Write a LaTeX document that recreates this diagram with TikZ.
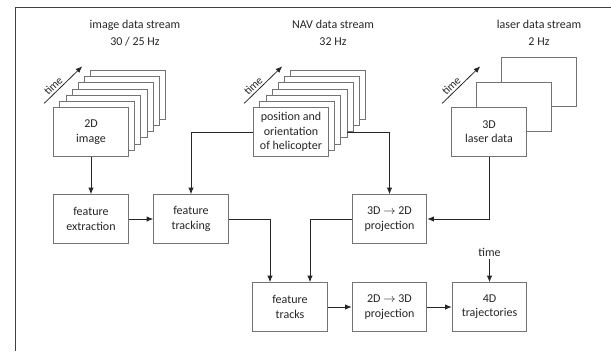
\documentclass[tikz,border=0pt]{standalone}
\usepackage{fontspec}
\setmainfont{Carlito}
\usetikzlibrary{calc}
\usetikzlibrary{arrows.meta}
\tikzset{
  box/.style={draw=black!55, fill=white, minimum width=56pt, minimum height=36.5pt,
    align=center, inner sep=1pt, text=black!85, font=\fontsize{9}{10.7}\selectfont},
  stream/.style={align=center, text=black!85, font=\fontsize{9}{12.5}\selectfont},
  flow/.style={draw=black!85, -{Latex[length=5pt,width=4pt]}},
}

\begin{document}
\begin{tikzpicture}[x=0.75pt, y=-0.75pt, line width=0.6pt]
    \useasboundingbox (0,0) rectangle (611,351);
    \draw[black!75] (15,351) -- (15,7) -- (611,7);

    % streams
    \node[stream] at (135,33) (himg) {image data stream\\30 / 25 Hz};
    \node[stream] at (333,33) (hnav) {NAV data stream\\32 Hz};
    \node[stream] at (539,33) (hlas) {laser data stream\\2 Hz};

    \foreach \k in {6,...,1}
      \node[box] at ({91+6.2*\k}, {132-6.2*\k}) (imgb\k) {};
    \node[box] at (91,132) (img) {2D\\image};

    \foreach \k in {6,...,1}
      \node[box] at ({291+6.2*\k}, {132-6.2*\k}) (navb\k) {};
    \node[box] at (291,132) (nav) {position and\\orientation\\of helicopter};

    \foreach \k in {2,1}
      \node[box] at ({489+25*\k}, {132-25*\k}) (lasb\k) {};
    \node[box] at (489,132) (las) {3D\\laser data};

    % time arrows
    \foreach \s in {img,nav,las} {
      \coordinate (\s t0) at ($(\s.north west)+(-9,-4)$);
      \coordinate (\s t1) at ($(\s.north west)+(29,-41)$);
      \draw[flow] (\s t0) -- node[sloped, above, pos=0.35, inner sep=1.5pt, text=black!85,
        font=\fontsize{8.5}{10}\selectfont] {time} (\s t1);
    }

    % processing
    \node[box] at (91,219) (fext) {feature\\extraction};
    \node[box] at (191,219) (ftrk) {feature\\tracking};
    \node[box] at (389.5,219) (proj32) {3D $\rightarrow$ 2D\\projection};
    \node[box] at (290,307) (ftracks) {feature\\tracks};
    \node[box] at (389.5,307) (proj23) {2D $\rightarrow$ 3D\\projection};
    \node[box] at (489.5,307) (traj) {4D\\trajectories};
    \node[text=black!85, font=\fontsize{9}{10.7}\selectfont, inner sep=2pt] at (489.5,252) (tlabel) {time};

    \coordinate (navout) at (navb3.east |- nav.east);
    \coordinate (inl) at ($(ftracks.north)+(-20,0)$);
    \coordinate (inr) at ($(ftracks.north)+(20,0)$);

    \draw[flow] (img) -- (fext);
    \draw[flow] (fext) -- (ftrk);
    \draw[flow] (nav) -| (ftrk);
    \draw[flow] (navout) -| (proj32);
    \draw[flow] (las) |- (proj32);
    \draw[flow] (proj32.west) -| (inr);
    \draw[flow] (ftrk.east) -| (inl);
    \draw[flow] (ftracks) -- (proj23);
    \draw[flow] (proj23) -- (traj);
    \draw[flow] (tlabel) -- (traj);
\end{tikzpicture}
\end{document}
